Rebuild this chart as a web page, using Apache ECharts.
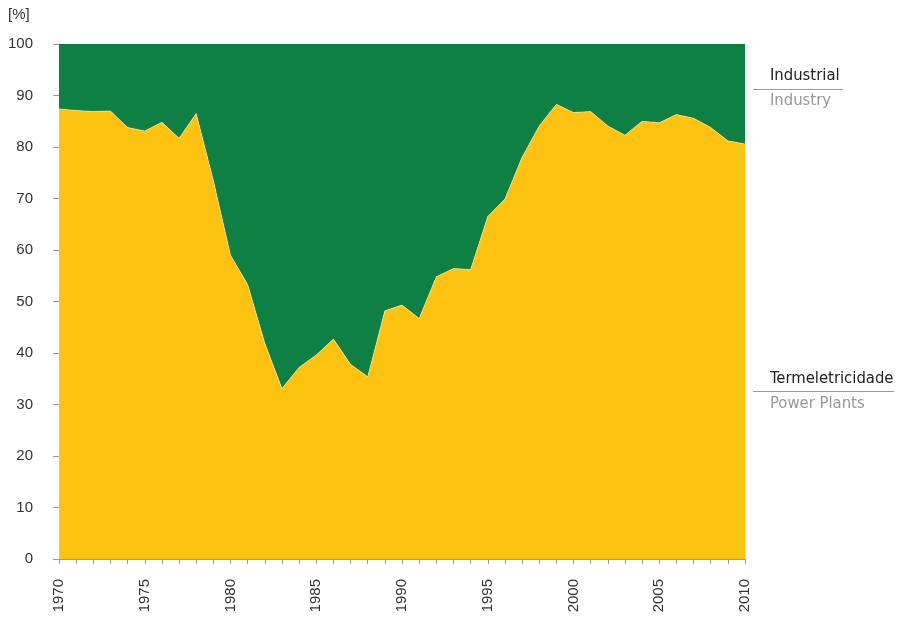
<!DOCTYPE html>
<html>
<head>
<meta charset="utf-8">
<script src="https://cdn.jsdelivr.net/npm/echarts@6/dist/echarts.min.js"></script>
<style>
  html, body { margin: 0; padding: 0; background: #fff; }
  #chart { width: 902px; height: 620px; }
</style>
</head>
<body>
<div id="chart"></div>
<script>
const years = ['1970','1971','1972','1973','1974','1975','1976','1977','1978','1979',
               '1980','1981','1982','1983','1984','1985','1986','1987','1988','1989',
               '1990','1991','1992','1993','1994','1995','1996','1997','1998','1999',
               '2000','2001','2002','2003','2004','2005','2006','2007','2008','2009','2010']

// Termeletricidade / Power Plants share [%]
const powerPlants = [87.4, 87.1, 86.9, 87.0, 83.8, 83.1, 84.8, 81.7, 86.5, 73.5,
                     59.0, 53.3, 41.9, 33.1, 37.2, 39.6, 42.7, 37.8, 35.4, 48.2,
                     49.3, 46.7, 54.8, 56.4, 56.2, 66.5, 69.9, 78.0, 84.1, 88.3,
                     86.7, 86.9, 84.1, 82.3, 85.0, 84.7, 86.3, 85.6, 83.8, 81.2, 80.6]

// Industrial / Industry share [%]
const industry = [12.6, 12.9, 13.1, 13.0, 16.2, 16.9, 15.2, 18.3, 13.5, 26.5,
                  41.0, 46.7, 58.1, 66.9, 62.8, 60.4, 57.3, 62.2, 64.6, 51.8,
                  50.7, 53.3, 45.2, 43.6, 43.8, 33.5, 30.1, 22.0, 15.9, 11.7,
                  13.3, 13.1, 15.9, 17.7, 15.0, 15.3, 13.7, 14.4, 16.2, 18.8, 19.4]

const yTicks = [0, 100, 10]  // min, max, step

const labelFont = "'DejaVu Sans Condensed', 'Noto Sans', sans-serif"

const chart = echarts.init(document.getElementById('chart'))

const option = {
    animation: false,
    grid: { left: 59, right: 157, top: 44, bottom: 61 },
    xAxis: {
        type: 'category',
        data: years,
        boundaryGap: false,
        axisLine: { lineStyle: { color: '#9a9a9a', width: 1 } },
        axisTick: { show: true, interval: 0, length: 5, lineStyle: { color: '#9a9a9a' } },
        axisLabel: {
            interval: 4,
            rotate: 90,
            margin: 20,
            color: '#333',
            fontSize: 15,
            fontFamily: 'Liberation Sans'
        },
        splitLine: { show: false }
    },
    yAxis: {
        type: 'value',
        min: yTicks[0],
        max: yTicks[1],
        interval: yTicks[2],
        axisLine: { show: true, lineStyle: { color: '#9a9a9a', width: 1 } },
        axisTick: { show: true, length: 6, lineStyle: { color: '#9a9a9a' } },
        axisLabel: {
            margin: 26,
            align: 'right',
            color: '#333',
            fontSize: 15,
            fontFamily: 'Liberation Sans'
        },
        splitLine: { show: false }
    },
    series: [{
        name: 'Power Plants',
        type: 'line',
        stack: 'total',
        data: powerPlants,
        symbol: 'none',
        lineStyle: { width: 0.8, color: 'rgba(255,255,255,0.55)' },
        areaStyle: { color: '#FEC210', opacity: 1 },
        z: 3
    }, {
        name: 'Industry',
        type: 'line',
        stack: 'total',
        data: industry,
        symbol: 'none',
        lineStyle: { width: 0 },
        areaStyle: { color: '#0E8043', opacity: 1 },
        z: 2
    }],
    graphic: [
        { type: 'text', left: 8, top: 7, style: { text: '[%]', fontSize: 15, fill: '#333', fontFamily: 'Liberation Sans' } },
        { type: 'text', left: 770, top: 67, style: { text: 'Industrial', fontSize: 16.5, fill: '#222', fontFamily: labelFont } },
        { type: 'line', shape: { x1: 753, y1: 89.5, x2: 843, y2: 89.5 }, style: { stroke: '#9a9a9a', lineWidth: 1 } },
        { type: 'text', left: 770, top: 92, style: { text: 'Industry', fontSize: 16.5, fill: '#999', fontFamily: labelFont } },
        { type: 'text', left: 770, top: 370, style: { text: 'Termeletricidade', fontSize: 16.5, fill: '#222', fontFamily: labelFont } },
        { type: 'line', shape: { x1: 753, y1: 391.5, x2: 894, y2: 391.5 }, style: { stroke: '#9a9a9a', lineWidth: 1 } },
        { type: 'text', left: 770, top: 395, style: { text: 'Power Plants', fontSize: 16.5, fill: '#999', fontFamily: labelFont } }
    ]
}

chart.setOption(option)
</script>
</body>
</html>
